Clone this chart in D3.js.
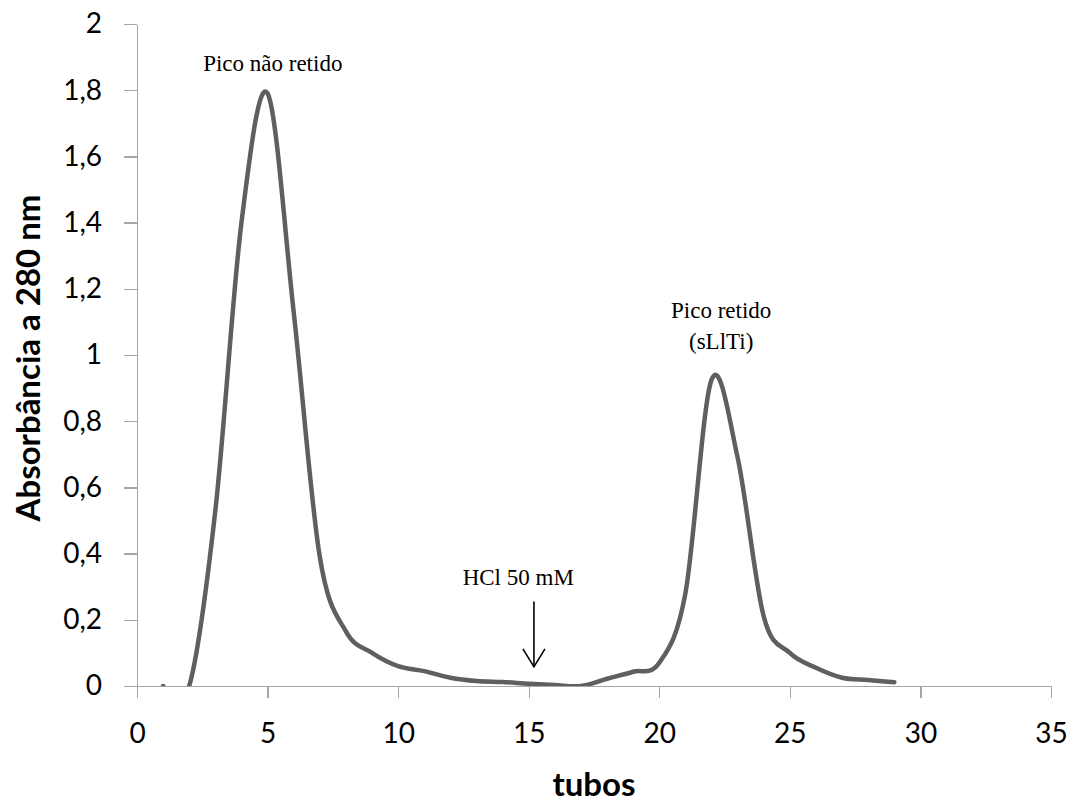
<!DOCTYPE html>
<html lang="pt">
<head>
    <meta charset="UTF-8">
    <title>Absorbância a 280 nm por tubo</title>
    <script src="https://d3js.org/d3.v7.min.js"></script>
    <style>
        body {
            margin: 0;
            background: #ffffff;
        }
        .axis path, .axis line {
            stroke: #a6a6a6;
            stroke-width: 1.3px;
            shape-rendering: crispEdges;
        }
        .axis text {
            font-family: Lato, 'Open Sans', sans-serif;
            font-size: 28px;
            fill: #000;
        }
        .axis-title {
            font-family: Lato, 'Open Sans', sans-serif;
            font-weight: bold;
            fill: #000;
        }
        .note {
            font-family: 'Liberation Serif', 'Times New Roman', serif;
            font-size: 23px;
            fill: #000;
        }
        .curve {
            fill: none;
            stroke: #5f5f5f;
            stroke-width: 4.5px;
            stroke-linejoin: round;
            stroke-linecap: round;
        }
    </style>
</head>
<body>
<div id="chart"></div>
<script>
    // tubes and absorbance values
    const tubes = [1, 2, 3, 4, 5, 6, 7, 8, 9, 10, 11, 12, 13, 14, 15,
                   16, 17, 18, 19, 20, 21, 22, 23, 24, 25, 26, 27, 28, 29];
    const absorbance = [0, 0, 0.53, 1.40, 1.79, 1.13, 0.39, 0.165, 0.10, 0.06, 0.045, 0.025, 0.015, 0.012, 0.007,
                        0.003, 0.0, 0.022, 0.043, 0.07, 0.28, 0.925, 0.69, 0.21, 0.10, 0.055, 0.025, 0.018, 0.011];

    // annotations, in data units
    const notes = [
        { text: "Pico não retido", x: 5.2, y: 1.858 },
        { text: "Pico retido", x: 22.37, y: 1.112 },
        { text: "(sLlTi)", x: 22.37, y: 1.018 },
        { text: "HCl 50 mM", x: 14.6, y: 0.305 }
    ];
    const arrow = { x: 15.2, yFrom: 0.255, yTo: 0.058 };

    const xDomain = [0, 35];
    const yDomain = [0, 2];

    const W = 1079, H = 805;
    const margin = { top: 24, right: 28, bottom: 119, left: 137 };
    const width = W - margin.left - margin.right;
    const height = H - margin.top - margin.bottom;

    const svg = d3.select("#chart").append("svg")
        .attr("width", W)
        .attr("height", H)
        .append("g")
        .attr("transform", `translate(${margin.left},${margin.top})`);

    const x = d3.scaleLinear().domain(xDomain).range([0, width]);
    const y = d3.scaleLinear().domain(yDomain).range([height, 0]);

    const ptBR = d3.formatLocale({ decimal: ",", thousands: ".", grouping: [3], currency: ["R$", ""] });
    const fmt = ptBR.format(".1~f");

    // axes
    const yAxis = svg.append("g")
        .attr("class", "axis")
        .call(d3.axisLeft(y).tickValues(y.ticks(10)).tickFormat(fmt).tickSize(13).tickSizeOuter(0).tickPadding(22));

    const xAxis = svg.append("g")
        .attr("class", "axis")
        .attr("transform", `translate(0,${height})`)
        .call(d3.axisBottom(x).tickValues(x.ticks(7)).tickSize(12).tickSizeOuter(0).tickPadding(25));

    // plot area clip, like the spreadsheet does
    svg.append("clipPath").attr("id", "plot-clip")
        .append("rect")
        .attr("x", 0).attr("y", 0)
        .attr("width", width).attr("height", height);

    const data = tubes.map((t, i) => ({ t: t, v: absorbance[i] }));

    const line = d3.line()
        .x(d => x(d.t))
        .y(d => y(d.v))
        .curve(d3.curveCardinal.tension(0));

    svg.append("path")
        .datum(data)
        .attr("class", "curve")
        .attr("clip-path", "url(#plot-clip)")
        .attr("d", line);

    // notes
    svg.selectAll(".note")
        .data(notes)
        .enter().append("text")
        .attr("class", "note")
        .attr("x", d => x(d.x))
        .attr("y", d => y(d.y))
        .attr("text-anchor", "middle")
        .text(d => d.text);

    // arrow for the HCl step
    const ax = x(arrow.x), ay0 = y(arrow.yFrom), ay1 = y(arrow.yTo);
    svg.append("line")
        .attr("x1", ax).attr("x2", ax)
        .attr("y1", ay0).attr("y2", ay1)
        .attr("stroke", "#000").attr("stroke-width", 1.6);
    svg.append("path")
        .attr("d", `M${ax - 11},${ay1 - 18}L${ax},${ay1}L${ax + 11},${ay1 - 18}`)
        .attr("fill", "none")
        .attr("stroke", "#000")
        .attr("stroke-width", 1.6);

    // axis titles
    svg.append("text")
        .attr("class", "axis-title")
        .attr("x", width / 2)
        .attr("y", height + 110)
        .attr("text-anchor", "middle")
        .style("font-size", "33px")
        .text("tubos");

    svg.append("text")
        .attr("class", "axis-title")
        .attr("transform", `translate(${40 - margin.left},${358 - margin.top}) rotate(-90)`)
        .attr("text-anchor", "middle")
        .style("font-size", "33px")
        .text("Absorbância a 280 nm");
</script>
</body>
</html>
